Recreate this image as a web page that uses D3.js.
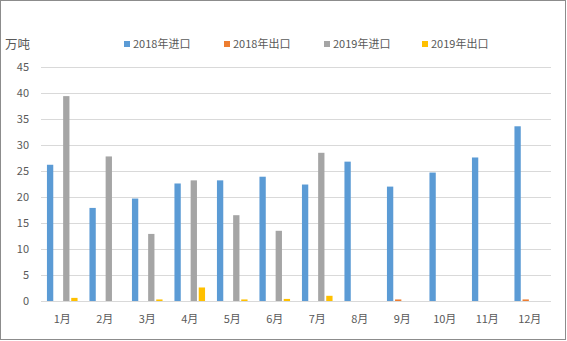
<!DOCTYPE html>
<html>
<head>
<meta charset="utf-8">
<script src="https://cdn.jsdelivr.net/npm/d3@7"></script>
<style>
  html, body { margin: 0; padding: 0; background: #fff; }
  svg { display: block; font-family: "Microsoft YaHei", "Noto Sans CJK SC", sans-serif; }
</style>
</head>
<body>
<svg id="chart" width="567" height="341"></svg>
<script>
// Monthly trade volumes (万吨)
const months = ["1月","2月","3月","4月","5月","6月","7月","8月","9月","10月","11月","12月"];
const seriesNames = ["2018年进口","2018年出口","2019年进口","2019年出口"];
const seriesColors = ["#5b9bd5","#ed7d31","#a5a5a5","#ffc000"];
const import2018 = [26.2, 17.9, 19.7, 22.6, 23.2, 23.9, 22.4, 26.8, 22.0, 24.7, 27.6, 33.6];
const export2018 = [0, 0, 0, 0, 0, 0, 0, 0, 0.3, 0, 0, 0.3];
const import2019 = [39.4, 27.8, 12.9, 23.2, 16.5, 13.5, 28.5, null, null, null, null, null];
const export2019 = [0.6, 0, 0.3, 2.6, 0.3, 0.4, 1.0, null, null, null, null, null];
const yTicks = [0, 5, 10, 15, 20, 25, 30, 35, 40, 45];
const yUnit = "万吨";

const allSeries = [import2018, export2018, import2019, export2019];

const svg = d3.select("#chart");
const W = 567, H = 341;
const plot = { left: 41, right: 551, top: 67, bottom: 301 };

// Outer frame
svg.append("rect")
  .attr("x", 0.5).attr("y", 0.5)
  .attr("width", 565).attr("height", 339)
  .attr("fill", "#fff").attr("stroke", "#8c8c8c").attr("stroke-width", 1);

const x = d3.scaleBand().domain(months).range([plot.left, plot.right]).paddingInner(0).paddingOuter(0);
const groupWidth = 30.6;
const x1 = d3.scaleBand().domain(d3.range(4))
  .range([(x.bandwidth() - groupWidth) / 2, (x.bandwidth() + groupWidth) / 2])
  .paddingInner(0.22);
const y = d3.scaleLinear().domain([0, 45]).range([plot.bottom, plot.top]);

// Gridlines
svg.append("g").selectAll("line").data(yTicks).join("line")
  .attr("x1", plot.left).attr("x2", plot.right)
  .attr("y1", d => Math.round(y(d)) + 0.5).attr("y2", d => Math.round(y(d)) + 0.5)
  .attr("stroke", "#d9d9d9").attr("stroke-width", 1);

// Y axis labels
const yAxis = d3.axisLeft(y).tickValues(yTicks).tickSize(0).tickPadding(0);
const gy = svg.append("g").attr("transform", `translate(${29},0)`).call(yAxis);
gy.select(".domain").remove();
gy.selectAll("text").attr("fill", "#595959").attr("font-size", 11)
  .attr("font-family", "'Microsoft YaHei','Noto Sans CJK SC',sans-serif");

// X axis labels
const xAxis = d3.axisBottom(x).tickSize(0).tickPadding(0);
const gx = svg.append("g").attr("transform", `translate(0,${plot.bottom + 14})`).call(xAxis);
gx.select(".domain").remove();
gx.selectAll("text").attr("fill", "#595959").attr("font-size", 11)
  .attr("font-family", "'Microsoft YaHei','Noto Sans CJK SC',sans-serif");

// Bars
const rows = months.map((m, i) => ({ month: m, values: allSeries.map(s => s[i]) }));
const groups = svg.append("g").selectAll("g").data(rows).join("g")
  .attr("transform", d => `translate(${x(d.month)},0)`);
groups.selectAll("rect")
  .data(d => d.values.map((v, k) => ({ k, v })).filter(e => e.v != null && e.v > 0))
  .join("rect")
  .attr("x", d => x1(d.k))
  .attr("width", x1.bandwidth())
  .attr("y", d => y(d.v))
  .attr("height", d => y(0) - y(d.v))
  .attr("fill", d => seriesColors[d.k]);

// Unit label
svg.append("text").attr("x", 5).attr("y", 49)
  .attr("font-size", 12.5).attr("fill", "#595959").text(yUnit);

// Legend
const legendX = [124, 224, 324, 422];
const legend = svg.append("g").selectAll("g").data(seriesNames).join("g")
  .attr("transform", (d, i) => `translate(${legendX[i]},44)`);
legend.append("rect").attr("x", 0).attr("y", -3).attr("width", 6).attr("height", 6)
  .attr("fill", (d, i) => seriesColors[i]);
legend.append("text").attr("x", 9).attr("y", 4)
  .attr("font-size", 11).attr("fill", "#595959").text(d => d);
</script>
</body>
</html>
